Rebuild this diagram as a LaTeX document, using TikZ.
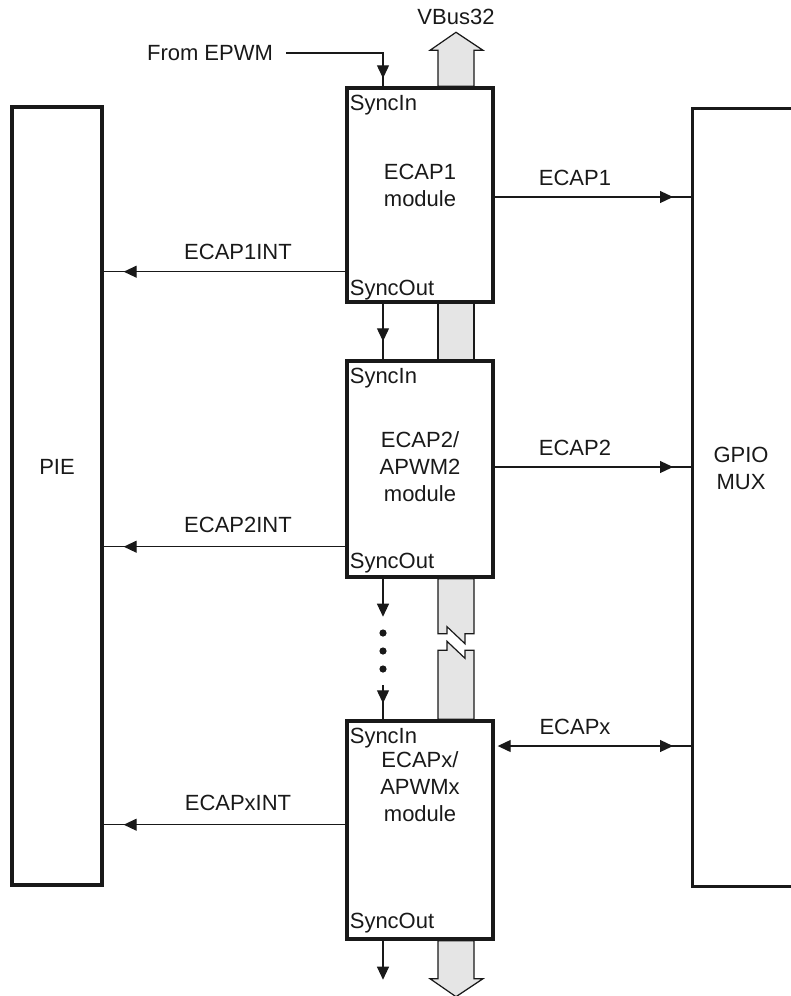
\documentclass[tikz,border=0pt]{standalone}
\usepackage{fontspec}
\setmainfont{Liberation Sans}
\usepackage{tikz}
\usetikzlibrary{arrows.meta, positioning, calc, decorations.markings, backgrounds}

\begin{document}
\begin{tikzpicture}[
    x=1pt, y=-1pt,
    every node/.style={font=\fontsize{22}{27}\selectfont, text=black!90},
    blk/.style={draw=black!90, line width=3.4pt, inner sep=0pt},
    module/.style={blk, minimum width=146pt},
    wire/.style={draw=black!90, line width=1.2pt},
    tip/.style={-{Triangle[length=13pt,width=12pt]}},
    midtip/.style={decoration={markings, mark=at position #1 with {\arrow{Triangle[length=13pt,width=12pt]}}}, postaction={decorate}},
    bus/.style={draw=black!90, line width=1.2pt, fill=black!10},
    lbl/.style={inner sep=1pt}
]
    \useasboundingbox (0,0) rectangle (791,996);

    % outer blocks
    \node[blk, minimum width=90pt, minimum height=778pt] (pie) at (57,496) {};
    \node[blk, minimum width=130pt, minimum height=778pt, anchor=north west] (gpio) at (691,107) {};
    \node (pietxt) at (57,467) {PIE};
    \node[align=center] (gpiotxt) at (741,468) {GPIO\\MUX};

    % ECAP modules
    \node[module, minimum height=214pt] (ecap1) at (420,195) {};
    \node[module, minimum height=216pt] (ecap2) at (420,469) {};
    \node[module, minimum height=218pt] (ecapx) at (420,830) {};

    \node[align=center] (m1txt) at (420,185) {ECAP1\\module};
    \node[align=center] (m2txt) at (420,467) {ECAP2/\\APWM2\\module};
    \node[align=center] (mxtxt) at (420,787) {ECAPx/\\APWMx\\module};

    \node[anchor=west] (in1) at ($(ecap1.north west)+(1,19)$) {SyncIn};
    \node[anchor=west] (out1) at ($(ecap1.south west)+(1,-14)$) {SyncOut};
    \node[anchor=west] (in2) at ($(ecap2.north west)+(1,19)$) {SyncIn};
    \node[anchor=west] (out2) at ($(ecap2.south west)+(1,-16)$) {SyncOut};
    \node[anchor=west] (inx) at ($(ecapx.north west)+(1,19)$) {SyncIn};
    \node[anchor=west] (outx) at ($(ecapx.south west)+(1,-18)$) {SyncOut};

    % VBus32
    \node (vbus) at (456,17) {VBus32};
    \begin{scope}[on background layer]
        \draw[bus] ($(ecap1.north)+(18,0)$) -- ++(0,-36) -- ++(-8,0) -- ++(26,-18) -- ++(27,18) -- ++(-9,0) -- ++(0,36) -- cycle;
        \draw[bus] ($(ecap1.south)+(18,0)$) rectangle ($(ecap2.north)+(54,0)$);
        \draw[bus] ($(ecap2.south)+(18,0)$) -- ++(0,55) -- ++(9,0) -- ++(0,-7) -- ++(18,17) -- ++(0,-10) -- ++(9,0) -- ++(0,-55) -- cycle;
        \draw[bus] ($(ecapx.north)+(18,0)$) -- ++(0,-69) -- ++(9,0) -- ++(0,-9) -- ++(18,17) -- ++(0,-8) -- ++(9,0) -- ++(0,69) -- cycle;
        \draw[bus] ($(ecapx.south)+(18,0)$) -- ++(0,38) -- ++(-8,0) -- ++(26,18) -- ++(27,-18) -- ++(-9,0) -- ++(0,-38) -- cycle;
    \end{scope}

    % sync chain
    \node (epwm) at (210,53) {From EPWM};
    \coordinate (s1) at ($(ecap1.north)+(-37,0)$);
    \draw[wire, midtip=-8pt] ([xshift=10pt]epwm.east) -- (epwm.east -| s1) -- (s1);
    \draw[wire, midtip=-18pt] ($(ecap1.south)+(-37,0)$) -- ($(ecap2.north)+(-37,0)$);
    \draw[wire, tip] ($(ecap2.south)+(-37,0)$) -- ++(0,38);
    \foreach \d in {633,651,669}
        \fill[black!90] (383,\d) circle (3.6pt);
    \draw[wire, midtip=-16pt] ($(ecapx.north)+(-37,-34)$) -- ($(ecapx.north)+(-37,0)$);
    \draw[wire, tip] ($(ecapx.south)+(-37,0)$) -- ++(0,39);

    % to GPIO MUX
    \draw[wire, midtip=-18pt] ([yshift=-2pt]ecap1.east) -- ([yshift=-2pt]ecap1.east -| gpio.west);
    \draw[wire, midtip=-18pt] ([yshift=2pt]ecap2.east) -- ([yshift=2pt]ecap2.east -| gpio.west);
    \draw[wire, midtip=-18pt, {Triangle[length=13pt,width=12pt]}-, shorten <=3pt] ([yshift=84pt]ecapx.east) -- ([yshift=84pt]ecapx.east -| gpio.west);
    \node[lbl] (l1) at (575,178) {ECAP1};
    \node[lbl] (l2) at (575,448) {ECAP2};
    \node[lbl] (lx) at (575,727) {ECAPx};

    % interrupts to PIE
    \draw[wire, midtip=-20pt] ([yshift=32pt]ecap1.south west) -- ([yshift=32pt]ecap1.south west -| pie.east);
    \draw[wire, midtip=-20pt] ([yshift=32pt]ecap2.south west) -- ([yshift=32pt]ecap2.south west -| pie.east);
    \draw[wire, midtip=-20pt] ([yshift=116pt]ecapx.south west) -- ([yshift=116pt]ecapx.south west -| pie.east);
    \node[lbl] (i1) at (238,252) {ECAP1INT};
    \node[lbl] (i2) at (238,525) {ECAP2INT};
    \node[lbl] (ix) at (238,803) {ECAPxINT};
\end{tikzpicture}
\end{document}
